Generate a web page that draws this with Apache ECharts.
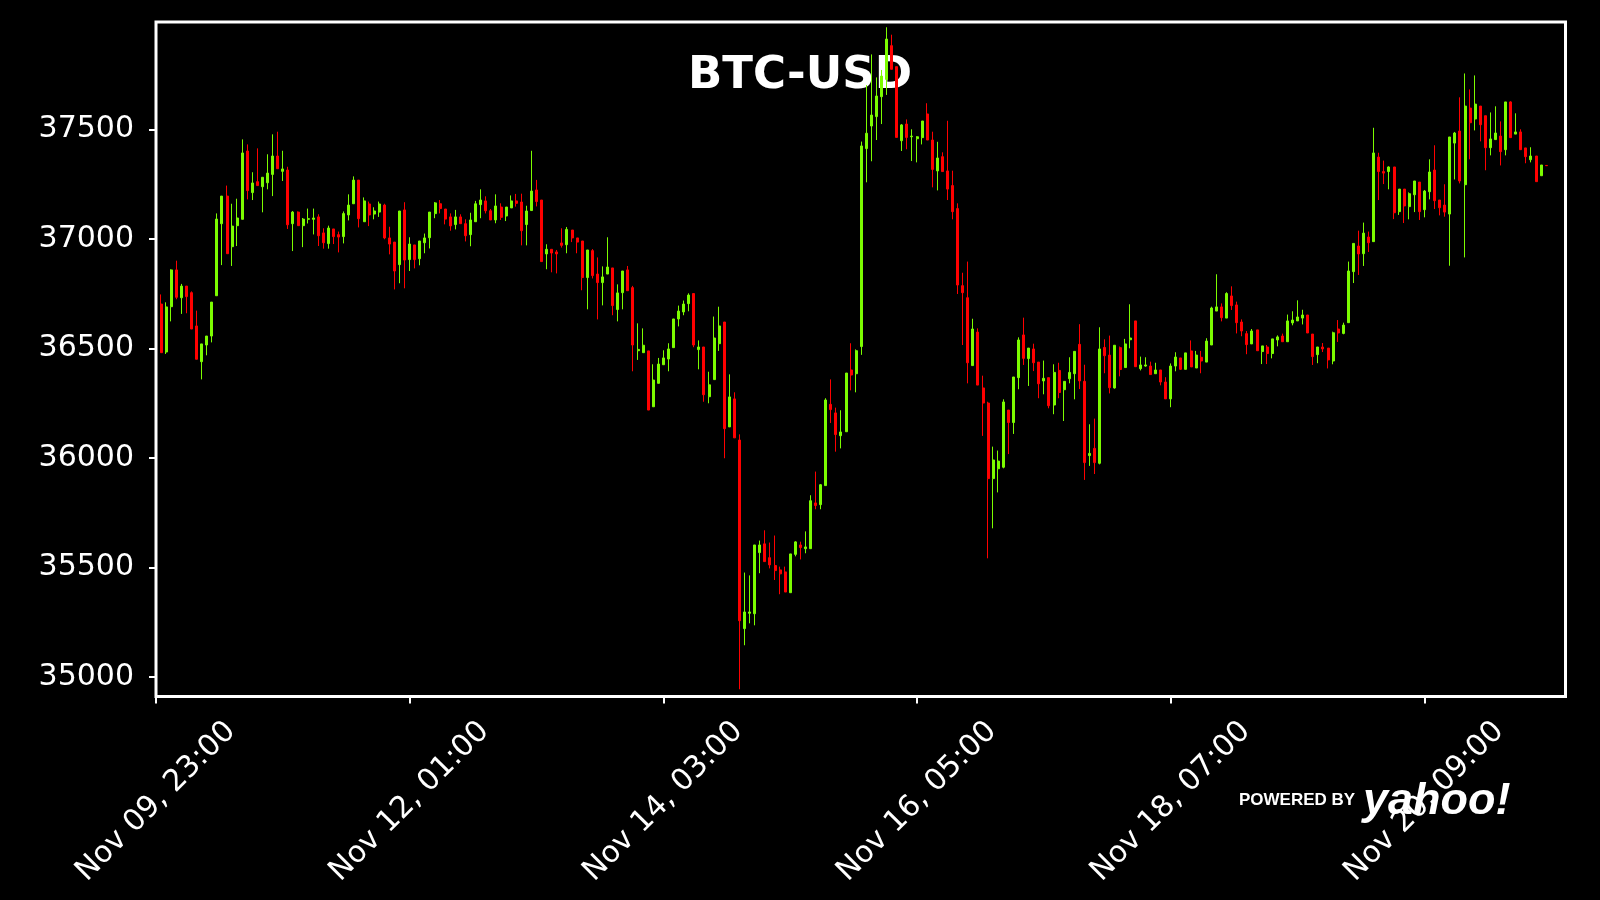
<!DOCTYPE html>
<html>
<head>
<meta charset="utf-8">
<script src="https://cdn.jsdelivr.net/npm/echarts@6/dist/echarts.min.js"></script>
<style>
  html, body { margin: 0; padding: 0; background: #000; }
  #chart { width: 1600px; height: 900px; }
</style>
</head>
<body>
<div id="chart"></div>
<script>
// ---- Data (hourly candles, position 0 = Nov 09 23:00) ----
const opens = [
36702,36483,36690,36858,36731,36784,36754,36602,36439,36515,36556,36740,37069,37195,36964,37060,37089,37401,37211,37261,
37238,37256,37294,37378,37308,37314,37069,37122,37060,37089,37089,37100,37027,36978,37045,37019,37010,37109,37160,37268,
37078,37159,37113,37122,37154,37004,36985,36882,37132,36905,36972,36909,36982,37005,37115,37160,37136,37100,37065,37100,
37069,37019,37078,37156,37173,37128,37086,37145,37104,37141,37173,37168,37065,37129,37223,37177,36931,36952,36940,36981,
36973,37040,37004,36990,36823,36946,36839,36800,36839,36867,36677,36754,36858,36777,36489,36480,36488,36233,36340,36425,
36451,36503,36634,36666,36704,36750,36494,36506,36279,36357,36521,36620,36141,36269,36081,35220,35290,35288,35567,35607,
35544,35508,35488,35479,35384,35559,35602,35585,35585,35794,35786,35873,36244,36205,36101,36119,36401,36384,36508,37412,
37515,37558,37649,37728,37882,37786,37448,37524,37466,37457,37462,37570,37451,37310,37375,37310,37243,37138,36786,36731,
36421,36574,36319,36250,35905,35950,35957,36218,36161,36366,36561,36453,36497,36437,36351,36366,36241,36399,36311,36361,
36384,36518,36349,36010,36043,35975,36504,36469,36319,36503,36412,36539,36625,36407,36419,36419,36384,36401,36346,36269,
36419,36456,36404,36488,36410,36459,36437,36515,36670,36689,36638,36739,36698,36620,36567,36520,36584,36485,36506,36476,
36538,36556,36530,36616,36625,36638,36652,36565,36471,36506,36501,36442,36588,36568,36617,36850,36967,36932,37008,36987,
37373,37307,37307,37328,37124,37227,37147,37201,37259,37133,37215,37314,37177,37154,37113,37437,37492,37247,37597,37547,
37606,37562,37416,37453,37469,37407,37625,37478,37488,37415,37361,37378,37288,37335
];
const closes = [
36480,36689,36858,36733,36784,36736,36588,36450,36520,36556,36711,37090,37195,36932,37058,37095,37392,37220,37255,37243,
37281,37300,37378,37320,37319,37064,37122,37060,37090,37092,37095,37014,36982,37049,37010,37008,37115,37154,37268,37092,
37173,37109,37127,37159,37004,36976,36853,37127,36903,36976,36905,36990,37004,37122,37164,37138,37090,37059,37100,37069,
37014,37086,37160,37177,37128,37086,37150,37098,37145,37173,37162,37037,37127,37218,37170,36896,36952,36935,36931,36970,
37043,37004,36985,36823,36949,36832,36800,36826,36871,36695,36753,36853,36763,36515,36495,36514,36218,36355,36428,36456,
36497,36634,36670,36702,36743,36515,36506,36288,36333,36547,36602,36133,36278,36091,35256,35296,35296,35602,35602,35526,
35511,35485,35470,35387,35561,35616,35590,35593,35804,35782,35877,36264,36220,36106,36118,36387,36378,36489,37424,37482,
37565,37652,37743,37912,37774,37463,37520,37463,37469,37466,37538,37451,37317,37369,37307,37227,37124,36789,36754,36434,
36588,36332,36250,35905,35990,35985,36255,36161,36369,36538,36454,36501,36434,36338,36363,36238,36390,36298,36349,36390,
36486,36351,35978,36020,35978,36497,36466,36320,36514,36403,36520,36547,36416,36424,36424,36380,36401,36346,36269,36419,
36460,36404,36479,36415,36469,36442,36533,36684,36689,36640,36750,36695,36617,36579,36517,36579,36489,36511,36476,36543,
36552,36530,36625,36629,36643,36652,36570,36462,36506,36497,36447,36571,36570,36606,36853,36979,36931,37026,36982,37392,
37307,37300,37328,37119,37227,37150,37206,37264,37124,37218,37305,37174,37142,37122,37465,37483,37264,37606,37530,37615,
37521,37416,37456,37483,37398,37625,37462,37488,37407,37375,37378,37261,37337,37334
];
const lows = [
36480,36474,36623,36724,36657,36660,36588,36450,36358,36468,36527,36740,36880,36932,36876,36967,37089,37180,37177,37243,
37121,37226,37195,37320,37264,37045,36944,37060,36962,37070,37020,36967,36955,36955,36976,36938,36979,37084,37160,37052,
37078,37058,37089,37100,36998,36929,36769,36797,36774,36853,36865,36879,36934,36956,37094,37116,37066,37037,37043,37069,
36988,36966,37078,37094,37116,37086,37071,37086,37081,37141,37147,36970,36970,37129,37148,36896,36861,36847,36842,36960,
36934,36985,36934,36765,36678,36819,36632,36696,36839,36651,36623,36678,36763,36395,36447,36480,36218,36233,36340,36425,
36395,36503,36600,36651,36669,36505,36404,36256,36249,36357,36488,35998,36141,36091,34943,35144,35244,35235,35473,35526,
35495,35442,35377,35387,35384,35550,35536,35564,35585,35765,35765,35873,36159,36028,36043,36119,36308,36299,36470,37258,
37354,37451,37524,37657,37774,37463,37401,37409,37355,37349,37431,37451,37235,37221,37307,37177,37089,36748,36515,36340,
36421,36332,36100,35541,35678,35842,35952,36017,36109,36313,36424,36328,36396,36272,36290,36226,36199,36272,36168,36340,
36267,36314,35899,35963,35926,35970,36386,36294,36316,36372,36412,36500,36416,36399,36416,36380,36384,36331,36269,36231,
36395,36401,36404,36415,36410,36386,36437,36515,36670,36623,36638,36675,36568,36555,36473,36520,36489,36428,36428,36454,
36509,36530,36530,36605,36625,36609,36570,36424,36432,36483,36408,36427,36529,36564,36617,36798,36835,36876,36940,36987,
37177,37250,37226,37090,37109,37072,37089,37122,37086,37098,37180,37136,37107,37101,36877,37271,37253,36915,37363,37495,
37445,37313,37381,37453,37335,37381,37462,37478,37407,37345,37349,37261,37288,37334
];
const highs = [
36746,36710,36861,36900,36794,36784,36760,36672,36520,36556,36711,37116,37195,37243,37160,37183,37454,37431,37304,37413,
37281,37386,37477,37489,37402,37329,37127,37125,37095,37138,37138,37112,37048,37060,37045,37033,37125,37203,37285,37268,
37189,37170,37144,37170,37160,37055,36985,37127,37167,37007,36972,36990,37024,37122,37168,37177,37136,37116,37132,37112,
37089,37119,37173,37226,37194,37136,37203,37162,37145,37198,37205,37206,37151,37402,37269,37177,36975,36952,36949,37048,
37054,37040,37004,36990,36949,36953,36915,36874,37007,36867,36792,36853,36876,36785,36614,36591,36488,36427,36456,36491,
36523,36634,36695,36718,36751,36750,36536,36506,36393,36645,36690,36620,36381,36299,36107,35476,35463,35602,35622,35669,
35613,35645,35503,35503,35561,35619,35617,35664,35829,35937,35880,36272,36358,36229,36217,36387,36523,36495,37444,37702,
37842,37737,37771,37966,37932,37786,37524,37545,37500,37469,37538,37619,37489,37443,37395,37539,37311,37162,36845,36896,
36635,36591,36375,36256,36051,36033,36267,36218,36369,36550,36640,36501,36521,36437,36444,36366,36427,36434,36349,36459,
36486,36610,36425,36153,36179,36596,36541,36558,36514,36508,36543,36701,36625,36462,36459,36439,36434,36401,36368,36431,
36482,36456,36479,36536,36488,36488,36546,36690,36838,36705,36756,36783,36713,36632,36579,36588,36584,36511,36515,36543,
36559,36567,36654,36669,36719,36676,36652,36565,36506,36524,36501,36576,36629,36617,36896,36979,37037,37074,37033,37507,
37393,37357,37331,37328,37227,37227,37212,37264,37259,37223,37363,37427,37177,37249,37465,37488,37646,37755,37682,37746,
37606,37562,37577,37605,37536,37625,37628,37573,37500,37415,37418,37378,37337,37335
];
const xTickPositions = [0, 50, 100, 150, 200, 250];
const xTickLabels = ['Nov 09, 23:00', 'Nov 12, 01:00', 'Nov 14, 03:00', 'Nov 16, 05:00', 'Nov 18, 07:00', 'Nov 20, 09:00'];
const yTickValues = [35000, 35500, 36000, 36500, 37000, 37500];
const titleText = 'BTC-USD';

// ---- Chart ----
const candles = opens.map((o, i) => [i + 1, o, closes[i], lows[i], highs[i]]);
const chart = echarts.init(document.getElementById('chart'), null, { renderer: 'canvas' });
const FONT = 'DejaVu Sans';

chart.setOption({
  animation: false,
  backgroundColor: '#000',
  grid: {
    left: 156, right: 34.5, top: 22, bottom: 203.5,
    show: true, borderColor: '#fff', borderWidth: 3, backgroundColor: '#000'
  },
  xAxis: {
    type: 'value', min: 0, max: 277.8,
    axisLine: { show: false },
    splitLine: { show: false },
    axisTick: { show: true, length: 7, inside: false, customValues: xTickPositions,
      lineStyle: { color: '#fff', width: 2 } },
    axisLabel: {
      customValues: xTickPositions,
      formatter: v => xTickLabels[xTickPositions.indexOf(v)] || '',
      rotate: 45, align: 'center', verticalAlign: 'middle', margin: 105,
      color: '#fff', fontFamily: FONT, fontSize: 30
    }
  },
  yAxis: {
    type: 'value', min: 34910, max: 37990, scale: true,
    axisLine: { show: false },
    splitLine: { show: false },
    axisTick: { show: true, length: 7, inside: false, customValues: yTickValues,
      lineStyle: { color: '#fff', width: 2 } },
    axisLabel: {
      customValues: yTickValues,
      formatter: v => String(v),
      margin: 22, color: '#fff', fontFamily: FONT, fontSize: 30
    }
  },
  graphic: [
    { type: 'text', z: 1, x: 800, y: 76,
      style: { text: titleText, fill: '#fff', font: 'bold 45px "DejaVu Sans"', align: 'center', verticalAlign: 'middle' } },
    { type: 'text', z: 100, x: 1239, y: 800,
      style: { text: 'POWERED BY', fill: '#fff', font: 'bold 17px "Liberation Sans"', align: 'left', verticalAlign: 'middle' } },
    { type: 'text', z: 100, x: 1363, y: 802,
      style: { text: 'yahoo!', fill: '#fff', font: 'italic bold 45px "Liberation Sans"', align: 'left', verticalAlign: 'middle' } }
  ],
  series: [{
    type: 'candlestick',
    z: 5,
    dimensions: ['x', 'open', 'close', 'lowest', 'highest'],
    encode: { x: 0, y: [1, 2, 3, 4] },
    data: candles,
    barWidth: 2.5,
    itemStyle: {
      color: '#7CFC00', color0: '#FF0000',
      borderColor: '#7CFC00', borderColor0: '#FF0000',
      borderWidth: 1
    }
  }]
});
</script>
</body>
</html>
